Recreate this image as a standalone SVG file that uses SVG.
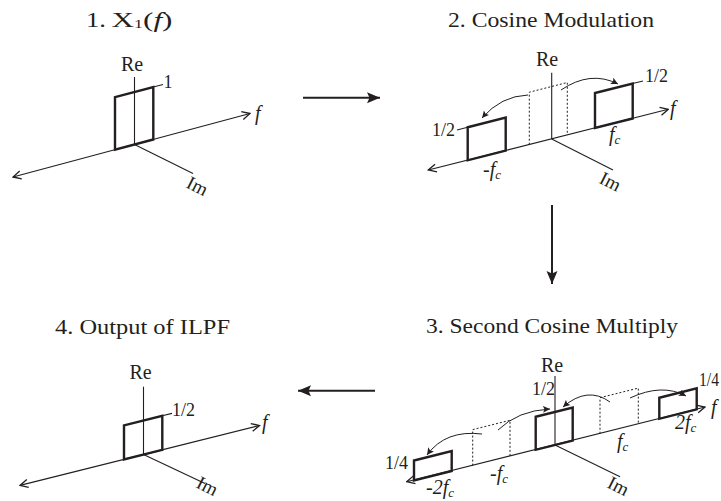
<svg xmlns="http://www.w3.org/2000/svg" width="721" height="501" viewBox="0 0 721 501">
<style>
text{font-family:"Liberation Serif","Times New Roman",serif;fill:#231f20}
.title{font-size:21px}
.re{font-size:20px;text-anchor:middle}
.lbl{font-size:18px}
.it{font-style:italic;font-size:20px}
.sub{font-style:italic;font-size:13px}
.im{font-size:19px}
.ax{stroke:#231f20;stroke-width:1.1;fill:none}
.axa{stroke:#231f20;stroke-width:1.1;fill:none;marker-start:url(#open);marker-end:url(#open)}
.rect{stroke:#231f20;stroke-width:2.4;fill:none;stroke-linejoin:miter}
.dot{stroke:#231f20;stroke-width:1;fill:none;stroke-dasharray:2 2}
.curve{stroke:#231f20;stroke-width:1;fill:none;marker-end:url(#small)}
.conn{stroke:#231f20;stroke-width:2;fill:none;marker-end:url(#big)}
</style>
<defs>
<marker id="open" markerUnits="userSpaceOnUse" viewBox="0 0 10 10" refX="9" refY="5" markerWidth="10" markerHeight="10" orient="auto-start-reverse">
<path d="M1,1 L9,5 L1,9" fill="none" stroke="#231f20" stroke-width="1.3"/>
</marker>
<marker id="small" markerUnits="userSpaceOnUse" viewBox="0 0 8 8" refX="7" refY="4" markerWidth="8" markerHeight="8" orient="auto">
<path d="M0,0.5 L7,4 L0,7.5 L1.5,4 z" fill="#231f20"/>
</marker>
<marker id="big" markerUnits="userSpaceOnUse" viewBox="0 0 14 12" refX="13" refY="6" markerWidth="14" markerHeight="12" orient="auto">
<path d="M0,0.5 L13,6 L0,11.5 L2.5,6 z" fill="#231f20"/>
</marker>
</defs>

<g id="panel1">
<text class="title" x="86" y="27" textLength="20" lengthAdjust="spacingAndGlyphs">1.</text>
<text class="title" x="111.5" y="27" textLength="61" lengthAdjust="spacingAndGlyphs">X<tspan font-size="12" dy="1">1</tspan><tspan dy="-1">(</tspan><tspan font-style="italic">f</tspan>)</text>
<line class="ax" x1="134.5" y1="77" x2="134.5" y2="144.5"/>
<line class="axa" x1="13" y1="177" x2="250" y2="113.5"/>
<line class="ax" x1="134.5" y1="144.5" x2="193" y2="173.5"/>
<polygon class="rect" points="115,149.7 115,97.2 153.3,87 153.3,139.5"/>
<line class="ax" x1="153.3" y1="87" x2="163" y2="84.5"/>
<text class="re" x="132" y="70.5">Re</text>
<text class="lbl" x="163.5" y="88">1</text>
<text class="it" x="255" y="120">f</text>
<text class="im" transform="translate(185,187) rotate(27)">Im</text>
</g>

<g id="panel2">
<text class="title" x="448" y="27" textLength="206" lengthAdjust="spacingAndGlyphs">2.  Cosine Modulation</text>
<line class="ax" x1="551.7" y1="72.7" x2="551.7" y2="139"/>
<line class="axa" x1="428.3" y1="170" x2="668.3" y2="109.3"/>
<line class="ax" x1="551.7" y1="139" x2="613" y2="170"/>
<polyline class="dot" points="529.3,144.7 529.3,92.2 567.3,82.5 567.3,135"/>
<polygon class="rect" points="467.7,160.3 467.7,127.3 505.7,117.6 505.7,150.6"/>
<polygon class="rect" points="595,128 595,93 632.7,83.5 632.7,118.5"/>
<line class="ax" x1="467.7" y1="127.3" x2="457" y2="130"/>
<line class="ax" x1="632.7" y1="83.5" x2="643" y2="81"/>
<path class="curve" d="M528,95 Q501,96 482,118"/>
<path class="curve" d="M561,90 Q590.5,70 618,84"/>
<text class="re" x="547" y="66">Re</text>
<text class="lbl" x="455" y="136" text-anchor="end">1/2</text>
<text class="lbl" x="645" y="82">1/2</text>
<text class="it" x="670" y="115">f</text>
<text class="it" x="609" y="141">f<tspan class="sub" dy="3">c</tspan></text>
<text class="it" x="483" y="176">-f<tspan class="sub" dy="3">c</tspan></text>
<text class="im" transform="translate(598,182.5) rotate(27)">Im</text>
</g>

<g id="panel3">
<text class="title" x="426" y="333" textLength="252" lengthAdjust="spacingAndGlyphs">3.  Second Cosine Multiply</text>
<line class="ax" x1="555" y1="376" x2="555" y2="445"/>
<line class="axa" x1="406.7" y1="481.7" x2="705" y2="407"/>
<line class="ax" x1="555" y1="445" x2="620" y2="476.7"/>
<polyline class="dot" points="472.7,465.6 472.7,429.6 510,420.3 510,456.3"/>
<polyline class="dot" points="600,433.7 600,397.7 638.3,388.1 638.3,424.1"/>
<polygon class="rect" points="535.7,449.8 535.7,416.8 572.7,407.6 572.7,440.6"/>
<polygon class="rect" points="414,480.5 414,460.5 451.7,451 451.7,471"/>
<polygon class="rect" points="659.3,418.8 659.3,397.8 696.7,388.4 696.7,409.4"/>
<path class="curve" d="M482,434 Q445.5,429.5 427,455"/>
<path class="curve" d="M498,430 Q518,410.5 550,409"/>
<path class="curve" d="M610,402 Q587.5,385.7 563,407"/>
<path class="curve" d="M630,398 Q662,383 686,396"/>
<text class="re" x="552" y="372">Re</text>
<text class="lbl" x="532" y="395">1/2</text>
<text class="lbl" x="408" y="469" text-anchor="end">1/4</text>
<text class="lbl" x="699" y="386" font-size="16" textLength="20" lengthAdjust="spacingAndGlyphs">1/4</text>
<text class="it" x="711" y="414">f</text>
<text class="it" x="675" y="429">2f<tspan class="sub" dy="3">c</tspan></text>
<text class="it" x="617" y="448">f<tspan class="sub" dy="3">c</tspan></text>
<text class="it" x="490" y="480">-f<tspan class="sub" dy="3">c</tspan></text>
<text class="it" x="426" y="494">-2f<tspan class="sub" dy="3">c</tspan></text>
<text class="im" transform="translate(606,487) rotate(27)">Im</text>
</g>

<g id="panel4">
<text class="title" x="55" y="334" textLength="175" lengthAdjust="spacingAndGlyphs">4.  Output of ILPF</text>
<line class="ax" x1="143.5" y1="386.7" x2="143.5" y2="454.5"/>
<line class="axa" x1="20" y1="485.4" x2="259.5" y2="425.5"/>
<line class="ax" x1="143.5" y1="454.5" x2="205" y2="483.5"/>
<polygon class="rect" points="124,459.4 124,425.4 162.3,415.8 162.3,449.8"/>
<line class="ax" x1="162.3" y1="415.8" x2="172" y2="413.4"/>
<text class="re" x="140.5" y="379">Re</text>
<text class="lbl" x="172" y="416">1/2</text>
<text class="it" x="262" y="429">f</text>
<text class="im" transform="translate(195,487) rotate(27)">Im</text>
</g>

<g id="connectors">
<line class="conn" x1="303" y1="97.7" x2="380" y2="97.7"/>
<line class="conn" x1="552" y1="205" x2="552" y2="284"/>
<line class="conn" x1="375" y1="390.7" x2="298" y2="390.7"/>
</g>
</svg>
